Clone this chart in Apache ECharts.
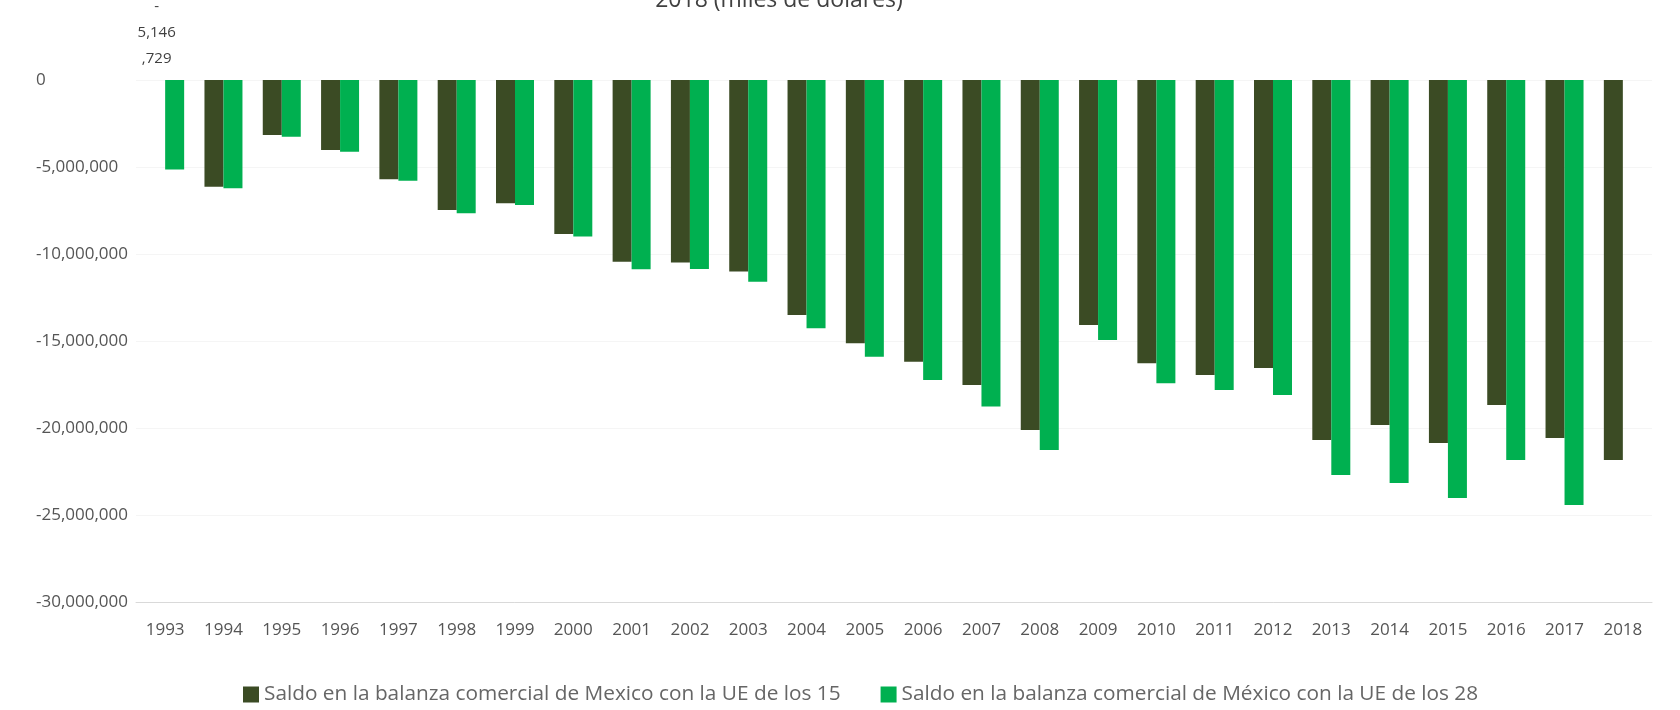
<!DOCTYPE html>
<html>
<head>
<meta charset="utf-8">
<script src="https://cdn.jsdelivr.net/npm/echarts@6/dist/echarts.min.js"></script>
<style>
  html, body { margin: 0; padding: 0; background: #fff; }
  #chart { width: 1680px; height: 710px; }
</style>
</head>
<body>
<div id="chart"></div>
<script>
// Años de la serie
const years = ['1993','1994','1995','1996','1997','1998','1999','2000','2001','2002','2003','2004','2005',
  '2006','2007','2008','2009','2010','2011','2012','2013','2014','2015','2016','2017','2018'];

// Saldo comercial con la UE de los 15 (miles de dólares)
const saldoUE15 = [null, -6130000, -3160000, -4020000, -5710000, -7470000, -7090000, -8850000, -10440000,
  -10490000, -11000000, -13500000, -15130000, -16190000, -17530000, -20110000, -14080000, -16280000,
  -16950000, -16550000, -20690000, -19830000, -20860000, -18680000, -20570000, -21840000];

// Saldo comercial con la UE de los 28 (miles de dólares)
const saldoUE28 = [-5146729, -6220000, -3260000, -4120000, -5790000, -7660000, -7180000, -9000000, -10880000,
  -10860000, -11600000, -14270000, -15900000, -17240000, -18770000, -21260000, -14940000, -17430000,
  -17820000, -18100000, -22700000, -23160000, -24020000, -21840000, -24430000, null];

// Escala del eje de valores
const yMin = -30000000;
const yMax = 0;
const yStep = 5000000;

const seriesNames = [
  'Saldo en la balanza comercial de Mexico con la UE de los 15',
  'Saldo en la balanza comercial de México con la UE de los 28'
];
const subtitle = '2018 (miles de dólares)';

const fontFamily = '"Open Sans", "Noto Sans", sans-serif';
const fmt = v => (v < 0 ? '-' : '') + Math.abs(v).toLocaleString('en-US');

// Etiqueta partida en tres renglones: signo, millares y resto
const splitLabel = p => {
  const s = Math.abs(p.value).toLocaleString('en-US');
  const cut = s.lastIndexOf(',');
  return '-\n' + s.slice(0, cut) + '\n' + s.slice(cut);
};

const ue28Data = saldoUE28.map((v, i) => i === 0
  ? { value: v, label: { show: true, position: 'top', distance: 8, offset: [-18, 0],
      formatter: splitLabel, color: '#404040', fontSize: 15, lineHeight: 26, fontFamily } }
  : v);

const chart = echarts.init(document.getElementById('chart'), null, { renderer: 'canvas' });
chart.setOption({
  animation: false,
  backgroundColor: '#ffffff',
  textStyle: { fontFamily },
  graphic: [{
    type: 'text',
    x: 779, y: 0,
    style: {
      text: subtitle, x: 0, y: 12, align: 'center', verticalAlign: 'bottom',
      font: '23px ' + fontFamily, fill: '#404040'
    }
  }],
  legend: {
    left: 238,
    top: 679,
    itemWidth: 16,
    itemHeight: 16,
    itemGap: 40,
    icon: 'rect',
    textStyle: { color: '#666666', fontSize: 20.8, fontFamily },
    data: seriesNames
  },
  grid: { left: 136, right: 28, top: 80, bottom: 108, containLabel: false },
  xAxis: {
    type: 'category',
    data: years,
    axisLine: { onZero: false, lineStyle: { color: '#d9d9d9', width: 1 } },
    axisTick: { show: false },
    axisLabel: { color: '#555555', fontSize: 17, margin: 20, interval: 0, fontFamily }
  },
  yAxis: {
    type: 'value',
    min: yMin,
    max: yMax,
    interval: yStep,
    axisLine: { show: false },
    axisTick: { show: false },
    splitLine: { lineStyle: { color: '#f5f5f5', width: 1 } },
    axisLabel: {
      color: '#555555', fontSize: 17, align: 'left', margin: 100, fontFamily,
      formatter: v => fmt(v)
    }
  },
  series: [
    {
      name: seriesNames[0],
      type: 'bar',
      data: saldoUE15,
      barWidth: 19,
      barGap: '0%',
      itemStyle: { color: '#3b4b24' }
    },
    {
      name: seriesNames[1],
      type: 'bar',
      data: ue28Data,
      barWidth: 19,
      barGap: '0%',
      itemStyle: { color: '#00b050' }
    }
  ]
});
</script>
</body>
</html>
